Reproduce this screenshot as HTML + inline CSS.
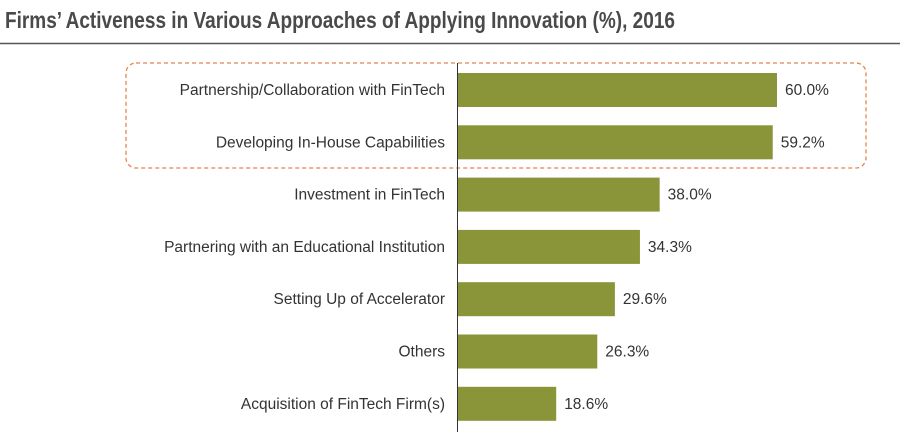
<!DOCTYPE html>
<html><head><meta charset="utf-8"><style>
html,body{margin:0;padding:0;background:#fff;}
svg{display:block;font-family:"Liberation Sans",sans-serif;}
</style></head><body>
<svg id="chart" width="900" height="440">
<text x="5" y="28" font-size="23" font-weight="bold" fill="#4a4a4a" textLength="670" lengthAdjust="spacingAndGlyphs">Firms’ Activeness in Various Approaches of Applying Innovation (%), 2016</text>
<line x1="0" y1="43.5" x2="900" y2="43.5" stroke="#555" stroke-width="1.5"/>
<rect x="126" y="63" width="740" height="105" rx="10" fill="none" stroke="#e8844a" stroke-width="1.3" stroke-dasharray="4,3"/>
<g id="bars"></g>
<line x1="457.5" y1="63" x2="457.5" y2="432" stroke="#333" stroke-width="1"/>
</svg>
<script>
const categories=["Partnership/Collaboration with FinTech","Developing In-House Capabilities","Investment in FinTech","Partnering with an Educational Institution","Setting Up of Accelerator","Others","Acquisition of FinTech Firm(s)"];
const values=[60.0,59.2,38.0,34.3,29.6,26.3,18.6];
const valueLabels=["60.0%","59.2%","38.0%","34.3%","29.6%","26.3%","18.6%"];
const NS="http://www.w3.org/2000/svg";
const x0=457,pxPer=320/60;
const xScale=v=>x0+v*pxPer;
const yCenter=i=>90+i*52.3;
const g=document.getElementById('bars');
categories.forEach((c,i)=>{
 const yc=yCenter(i);
 const r=document.createElementNS(NS,'rect');
 
 
 r.setAttribute('x',x0);r.setAttribute('y',yc-17);
 r.setAttribute('width',xScale(values[i])-x0);r.setAttribute('height',34);
 r.setAttribute('fill','#8a9439');g.appendChild(r);
 const t=document.createElementNS(NS,'text');
 
 
 t.setAttribute('x',445);t.setAttribute('y',yc+5);t.setAttribute('text-anchor','end');
 t.setAttribute('font-size','15.5');t.setAttribute('fill','#333');t.textContent=c;g.appendChild(t);
 const v=document.createElementNS(NS,'text');
 
 
 v.setAttribute('x',xScale(values[i])+8);v.setAttribute('y',yc+5);
 v.setAttribute('font-size','15.5');v.setAttribute('fill','#333');v.textContent=valueLabels[i];g.appendChild(v);
});
</script>
</body></html>
